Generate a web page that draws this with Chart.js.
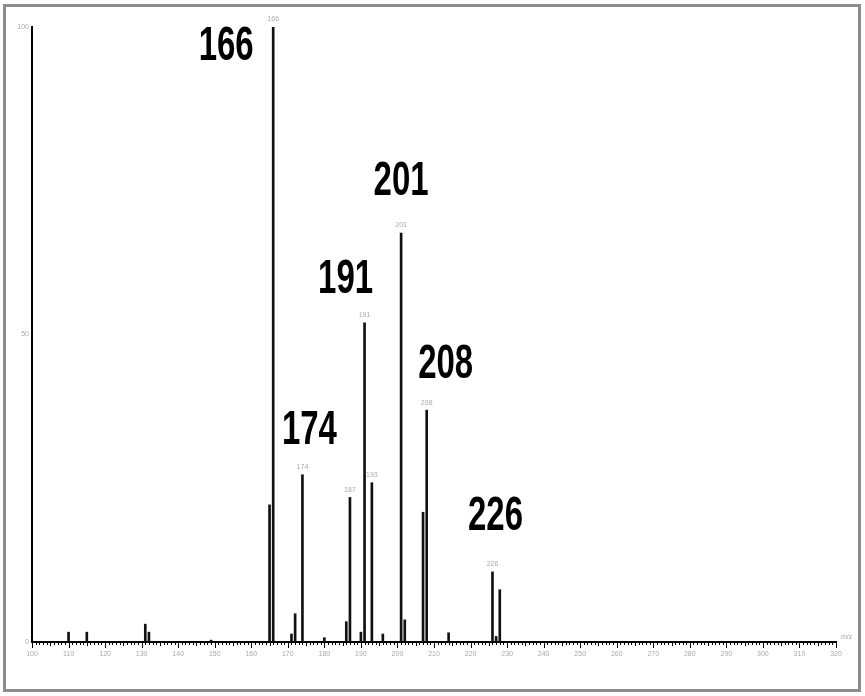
<!DOCTYPE html>
<html lang="en">
<head>
    <meta charset="UTF-8">
    <title>Mass spectrum</title>
    <script src="https://cdn.jsdelivr.net/npm/chart.js"></script>
    <style>
        html, body {
            margin: 0;
            padding: 0;
            background: #fff;
            font-family: Arial, "Liberation Sans", sans-serif;
        }
        .wrap {
            position: relative;
            width: 865px;
            height: 696px;
        }
        .frame {
            position: absolute;
            left: 3px;
            top: 4px;
            width: 852px;
            height: 682px;
            border: 3px solid #8c8c8c;
        }
        canvas {
            position: absolute;
            left: 0;
            top: 0;
        }
    </style>
</head>
<body>
<div class="wrap">
    <div class="frame"></div>
    <canvas id="spectrum" width="865" height="696"></canvas>
</div>

<script>
    // peaks (m/z) and relative intensity (%)
    const mz        = [110, 115, 131, 132, 149, 165, 166, 171, 172, 174, 180, 186, 187, 190, 191, 193, 196, 201, 202, 207, 208, 214, 226, 227, 228];
    const intensity = [1.6, 1.6, 2.9, 1.6, 0.3, 22.3, 100, 1.3, 4.6, 27.2, 0.7, 3.3, 23.5, 1.6, 51.9, 25.9, 1.3, 66.5, 3.6, 21.1, 37.7, 1.5, 11.4, 0.9, 8.5];

    // small grey labels over peaks, and the big bold ones
    const smallLabels = [166, 174, 187, 191, 193, 201, 208, 226];
    const bigLabels   = [166, 174, 191, 201, 208, 226];

    // big label offset from peak top (px): [dx, dy of baseline]
    const bigOffsets = {166: [-47, 33], 174: [7, -31], 191: [-19, -30], 201: [0, -38], 208: [19, -32], 226: [3, -42]};

    const xMin = 100, xMax = 320;

    const peakIntensity = m => intensity[mz.indexOf(m)];

    const spectrumExtras = {
        id: 'spectrumExtras',
        afterDatasetsDraw(chart) {
            const ctx = chart.ctx;
            const xs = chart.scales.x;
            const ys = chart.scales.y;
            const base = chart.chartArea.bottom;

            ctx.save();
            // x axis tick marks (minor every 1, mid every 5, major every 10)
            ctx.strokeStyle = '#000';
            ctx.lineWidth = 1;
            for (let v = xMin; v <= xMax; v++) {
                const px = Math.round(xs.getPixelForValue(v)) + 0.5;
                let len = 3;
                if (v % 10 === 0) len = 6;
                else if (v % 5 === 0) len = 4;
                ctx.beginPath();
                ctx.moveTo(px, base);
                ctx.lineTo(px, base + len);
                ctx.stroke();
            }

            // m/z unit
            ctx.fillStyle = '#aaa';
            ctx.font = '7px Arial, "Liberation Sans"';
            ctx.textAlign = 'left';
            ctx.textBaseline = 'bottom';
            ctx.fillText('m/z', chart.chartArea.right + 5, base - 1);

            // small peak labels
            ctx.textAlign = 'center';
            ctx.textBaseline = 'bottom';
            smallLabels.forEach(m => {
                const px = xs.getPixelForValue(m);
                const py = ys.getPixelForValue(peakIntensity(m));
                ctx.fillText(String(m), px, py - 4);
            });

            // big bold labels
            ctx.fillStyle = '#000';
            ctx.textBaseline = 'alphabetic';
            ctx.font = 'bold 49px "Liberation Sans Narrow", "Liberation Sans", Arial, sans-serif';
            bigLabels.forEach(m => {
                const px = xs.getPixelForValue(m) + bigOffsets[m][0];
                const py = ys.getPixelForValue(peakIntensity(m)) + bigOffsets[m][1];
                const w = ctx.measureText(String(m)).width;
                const sx = 55 / w;
                ctx.save();
                ctx.translate(px, py);
                ctx.scale(sx, 1);
                ctx.fillText(String(m), 0, 0);
                ctx.restore();
            });
            ctx.restore();
        }
    };

    const ctx = document.getElementById('spectrum').getContext('2d');
    new Chart(ctx, {
        type: 'bar',
        data: {
            datasets: [{
                data: mz.map((m, i) => ({x: m, y: intensity[i]})),
                backgroundColor: '#111',
                barThickness: 2
            }]
        },
        options: {
            responsive: false,
            animation: false,
            layout: {padding: {top: 27, right: 29, left: 0, bottom: 0}},
            plugins: {
                legend: {display: false},
                tooltip: {enabled: false}
            },
            scales: {
                x: {
                    type: 'linear',
                    min: xMin,
                    max: xMax,
                    offset: false,
                    afterFit: s => { s.height = 54; },
                    grid: {display: false, drawTicks: false, offset: false},
                    border: {display: true, color: '#000', width: 2},
                    ticks: {
                        stepSize: 10,
                        color: '#aaa',
                        font: {size: 7, family: 'Arial, "Liberation Sans"'},
                        padding: 8,
                        maxRotation: 0,
                        autoSkip: false
                    }
                },
                y: {
                    min: 0,
                    max: 100,
                    afterFit: s => { s.width = 32; },
                    grid: {display: false, drawTicks: false},
                    border: {display: true, color: '#000', width: 2},
                    ticks: {
                        stepSize: 50,
                        color: '#aaa',
                        font: {size: 7, family: 'Arial, "Liberation Sans"'},
                        padding: 3
                    }
                }
            }
        },
        plugins: [spectrumExtras]
    });
</script>
</body>
</html>
